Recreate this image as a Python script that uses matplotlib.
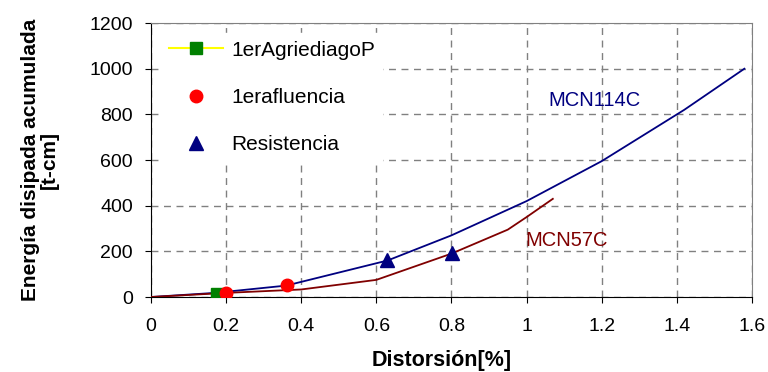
#Energia disipada acumulada vs distorsion
import matplotlib
matplotlib.use('Agg')
import matplotlib.pyplot as plt

plt.rcParams['font.family'] = ['Liberation Sans', 'DejaVu Sans']

#Curves
mcn114_x = [0, 0.17, 0.36, 0.63, 0.8, 1.0, 1.2, 1.42, 1.58]
mcn114_y = [0, 18, 50, 160, 270, 420, 595, 820, 1000]
mcn57_x = [0, 0.2, 0.4, 0.6, 0.8, 0.95, 1.0, 1.07]
mcn57_y = [0, 18, 33, 75, 190, 295, 350, 430]

#Marker points
agriet_x = [0.175]
agriet_y = [12]
fluencia_x = [0.2, 0.362]
fluencia_y = [19, 54]
resist_x = [0.628, 0.802]
resist_y = [161, 193]

fig = plt.figure(figsize=(7.68, 3.72), dpi=100)
ax = fig.add_axes([0.1966, 0.2016, 0.7824, 0.7364])

ax.plot(mcn114_x, mcn114_y, color='#000080', lw=1.3, zorder=3)
ax.plot(mcn57_x, mcn57_y, color='#800000', lw=1.3, zorder=3)

ax.plot(agriet_x, agriet_y, color='#ffff00', marker='s', mfc='#008000', mec='#008000',
        ms=8, ls='-', label='1erAgriediagoP', zorder=4)
ax.plot(fluencia_x, fluencia_y, ls='none', marker='o', color='#ff0000', ms=9,
        label='1erafluencia', zorder=5)
ax.plot(resist_x, resist_y, ls='none', marker='^', color='#000080', ms=10,
        label='Resistencia', zorder=5)

ax.text(1.18, 860, 'MCN114C', color='#000080', fontsize=14.5, ha='center', va='center')
ax.text(1.107, 248, 'MCN57C', color='#800000', fontsize=14.5, ha='center', va='center')

ax.set_xlim(0, 1.6)
ax.set_ylim(0, 1200)
ax.set_xticks([0, 0.2, 0.4, 0.6, 0.8, 1, 1.2, 1.4, 1.6])
ax.set_xticklabels(['0', '0.2', '0.4', '0.6', '0.8', '1', '1.2', '1.4', '1.6'])
ax.set_yticks(range(0, 1201, 200))
ax.tick_params(labelsize=14, direction='out', length=4, color='black')
ax.tick_params(axis='y', pad=9)
ax.tick_params(axis='x', pad=11)
ax.grid(True, color='#808080', ls=(0, (5, 4)), lw=1)
ax.set_axisbelow(True)

for side in ['top', 'right']:
    ax.spines[side].set_color('#808080')
ax.spines['left'].set_color('black')
ax.spines['bottom'].set_color('black')

ax.set_xlabel('Distorsión[%]', fontsize=15.5, fontweight='bold', labelpad=11)
ax.xaxis.label.set_x(0.483)
ax.set_ylabel('Energía disipada acumulada\n[t-cm]', fontsize=15, fontweight='bold',
              labelpad=22, linespacing=1.0)

leg = ax.legend(loc='upper left', fontsize=15, frameon=True, framealpha=1,
                edgecolor='white', fancybox=False, handlelength=2.6,
                labelspacing=1.35, borderpad=0.35, handletextpad=0.4,
                borderaxespad=0.5)
leg.set_zorder(10)

fig.savefig('out.png', dpi=100)
